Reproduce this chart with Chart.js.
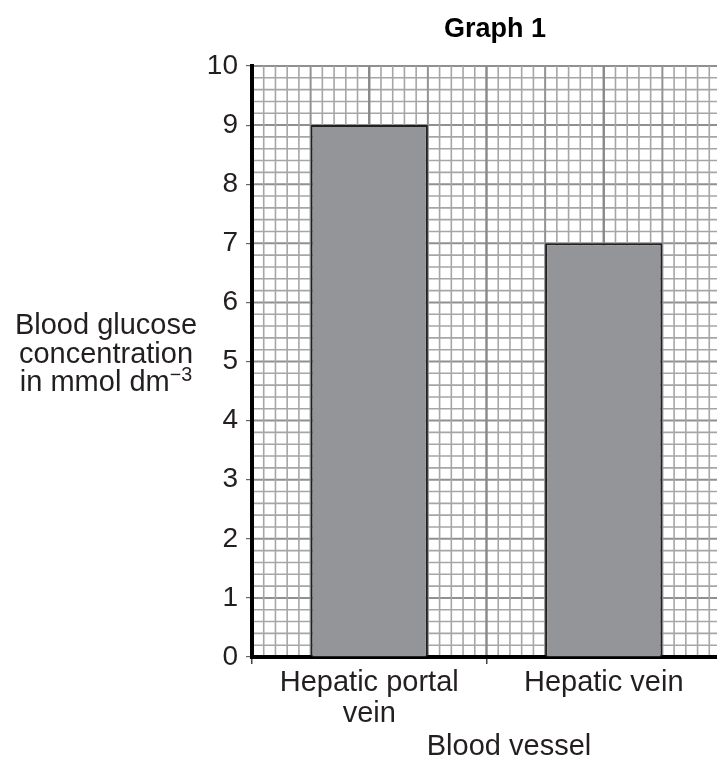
<!DOCTYPE html>
<html>
<head>
<meta charset="utf-8">
<script src="https://cdn.jsdelivr.net/npm/chart.js@4.4.1/dist/chart.umd.min.js"></script>
<style>
  html, body { margin: 0; padding: 0; background: #fff; overflow: hidden; }
  body { width: 717px; height: 757px; position: relative; font-family: "Liberation Sans", Arial, sans-serif; color: #231f20; }
  #wrap { position: absolute; left: 0; top: 0; width: 721px; height: 757px; }
  .lbl { position: absolute; white-space: nowrap; }
  #title { left: 395px; width: 200px; top: 15px; text-align: center; font-weight: bold; font-size: 27px; line-height: 27px; color: #000; }
  #ytitle { left: 0; width: 212px; top: 310px; text-align: center; font-size: 29px; line-height: 28.5px; }
  #ytitle sup { font-size: 0.68em; line-height: 0; vertical-align: 0.5em; }
  #xtitle { left: 409px; width: 200px; top: 731px; text-align: center; font-size: 29px; line-height: 29px; }
</style>
</head>
<body>
<div id="wrap"><canvas id="chart"></canvas></div>
<div class="lbl" id="title">Graph 1</div>
<div class="lbl" id="ytitle">Blood glucose<br>concentration<br>in mmol dm<sup>−3</sup></div>
<div class="lbl" id="xtitle">Blood vessel</div>
<script>
const vessels = [["Hepatic portal", "vein"], "Hepatic vein"];
const glucose = [9, 7];
const yTicks = [0, 1, 2, 3, 4, 5, 6, 7, 8, 9, 10];

// graph paper behind the bars
const graphPaper = {
  id: "graphPaper",
  beforeDraw(chart) {
    const { ctx, chartArea: a, scales } = chart;
    const y = scales.y;
    const x = scales.x;
    const cat = x.getPixelForValue(1) - x.getPixelForValue(0);
    const step = cat / 20;
    ctx.save();
    ctx.beginPath();
    ctx.rect(a.left, a.top - 2, a.right - a.left, a.bottom - a.top + 4);
    ctx.clip();
    // horizontal lines every 0.2
    for (let i = 0; i <= 50; i++) {
      const py = y.getPixelForValue(i * 0.2);
      ctx.beginPath();
      if (i % 5 === 0) {
        ctx.strokeStyle = "#909090";
        ctx.lineWidth = 2;
      } else {
        ctx.strokeStyle = "#a6a6a6";
        ctx.lineWidth = 1.6;
      }
      ctx.moveTo(a.left, py);
      ctx.lineTo(a.right, py);
      ctx.stroke();
    }
    // vertical lines
    let i = 0;
    for (let px = a.left; px <= a.right + 1; px += step, i++) {
      ctx.beginPath();
      if (i % 10 === 0) {
        ctx.strokeStyle = "#888888";
        ctx.lineWidth = 2.4;
      } else if (i % 5 === 0) {
        ctx.strokeStyle = "#939393";
        ctx.lineWidth = 2;
      } else {
        ctx.strokeStyle = "#a6a6a6";
        ctx.lineWidth = 1.6;
      }
      ctx.moveTo(px, a.top);
      ctx.lineTo(px, a.bottom);
      ctx.stroke();
    }
    ctx.restore();
  },
};

const chart = new Chart("chart", {
  type: "bar",
  data: {
    labels: vessels,
    datasets: [
      {
        data: glucose,
        backgroundColor: "#939598",
        borderColor: "#231f20",
        borderWidth: 2,
        barPercentage: 1,
        categoryPercentage: 0.5,
      },
    ],
  },
  options: {
    responsive: true,
    maintainAspectRatio: false,
    animation: false,
    layout: {
      padding: { top: 66, left: 0, right: 0, bottom: 0 },
    },
    plugins: {
      legend: { display: false },
      tooltip: { enabled: false },
    },
    scales: {
      x: {
        afterFit: (s) => {
          s.height = 100;
        },
        grid: {
          drawOnChartArea: false,
          tickLength: 7,
          color: "#444",
          lineWidth: 1.5,
        },
        border: { color: "#000", width: 4 },
        ticks: {
          color: "#231f20",
          padding: 4,
          font: { family: "Liberation Sans", size: 29, lineHeight: 1.05 },
        },
      },
      y: {
        min: 0,
        max: 10,
        afterFit: (s) => {
          s.width = 252;
        },
        afterBuildTicks: (s) => {
          s.ticks = yTicks.map((v) => ({ value: v }));
        },
        grid: {
          drawOnChartArea: false,
          tickLength: 6,
          color: "#666",
          lineWidth: 1.2,
        },
        border: { color: "#000", width: 4 },
        ticks: {
          color: "#231f20",
          padding: 8,
          font: { family: "Liberation Sans", size: 28 },
        },
      },
    },
  },
  plugins: [graphPaper],
});
</script>
</body>
</html>
